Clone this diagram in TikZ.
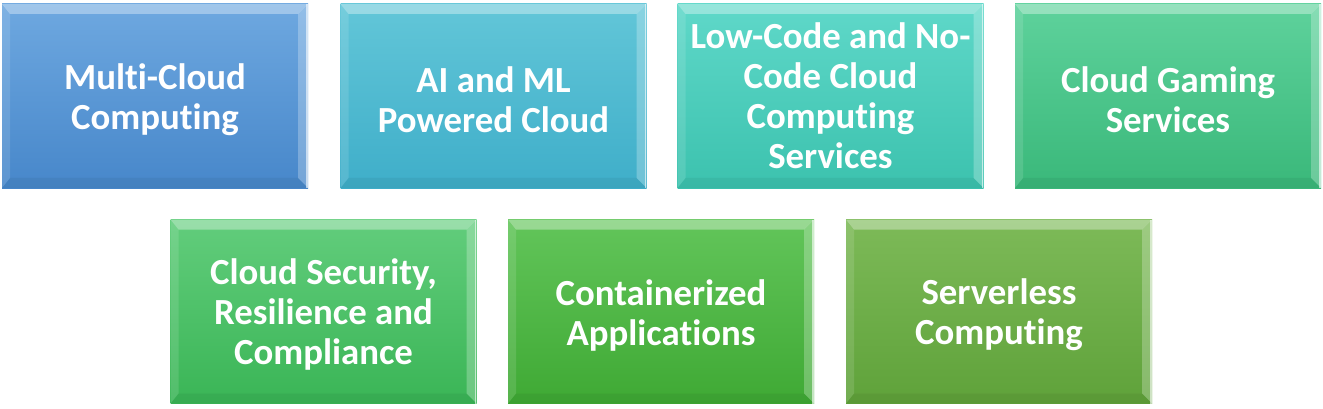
\documentclass[tikz,border=0pt]{standalone}
\usepackage{fontspec}
\setmainfont{Carlito}[RawFeature={-liga;-clig;-dlig;-calt}]
\usetikzlibrary{calc}
\definecolor{cA1}{HTML}{6EA8E0}\definecolor{cA2}{HTML}{4787CA}
\definecolor{cB1}{HTML}{62C6D8}\definecolor{cB2}{HTML}{3FAEC9}
\definecolor{cC1}{HTML}{5FD8C9}\definecolor{cC2}{HTML}{3CC2AE}
\definecolor{cD1}{HTML}{5ED29C}\definecolor{cD2}{HTML}{3AB87A}
\definecolor{cE1}{HTML}{62CD7C}\definecolor{cE2}{HTML}{3AB556}
\definecolor{cF1}{HTML}{62C55A}\definecolor{cF2}{HTML}{3FA934}
\definecolor{cG1}{HTML}{7DBA58}\definecolor{cG2}{HTML}{5FA23A}
\newcommand{\topstrut}[1]{\rule{0pt}{#1}}
\tikzset{
  bevelbox/.style n args={2}{
    rectangle, minimum width=306pt, minimum height=184pt, inner sep=0pt,
    top color=#1, bottom color=#2,
    text=white, align=center,
    font=\fontsize{36.8}{40}\selectfont\bfseries,
    path picture={
      \def\pb{path picture bounding box}
      \fill[white,opacity=.35] (\pb.north west) -- (\pb.north east)
        -- ([shift={(-10pt,-10pt)}]\pb.north east) -- ([shift={(8pt,-10pt)}]\pb.north west) -- cycle;
      \fill[white,opacity=.12] (\pb.north west) -- ([shift={(8pt,-10pt)}]\pb.north west)
        -- ([shift={(8pt,10pt)}]\pb.south west) -- (\pb.south west) -- cycle;
      \fill[white,opacity=.25] (\pb.north east) -- ([shift={(-10pt,-10pt)}]\pb.north east)
        -- ([shift={(-10pt,10pt)}]\pb.south east) -- (\pb.south east) -- cycle;
      \fill[black,opacity=.05] (\pb.south west) -- ([shift={(8pt,10pt)}]\pb.south west)
        -- ([shift={(-10pt,10pt)}]\pb.south east) -- (\pb.south east) -- cycle;
      \draw[white,opacity=.6,line width=1.2pt] ([xshift=-1pt]\pb.north east) -- ([xshift=-1pt]\pb.south east);
    }
  }
}
\begin{document}
\begin{tikzpicture}[x=1pt,y=-1pt]
\useasboundingbox (0,0) rectangle (1323,409);
\node[bevelbox={cA1}{cA2}] (b1) at (155,96) {\topstrut{33pt}Multi-Cloud\\Computing};
\node[bevelbox={cB1}{cB2}] (b2) at (493.5,96) {\topstrut{33pt}AI and ML\\Powered Cloud};
\node[bevelbox={cC1}{cC2}] (b3) at (830.5,96) {Low-Code and No-\\Code Cloud\\Computing\\Services};
\node[bevelbox={cD1}{cD2}] (b4) at (1168,96) {\topstrut{33pt}Cloud Gaming\\Services};
\node[bevelbox={cE1}{cE2}] (b5) at (323.5,311.5) {\topstrut{31pt}Cloud Security,\\Resilience and\\Compliance};
\node[bevelbox={cF1}{cF2}] (b6) at (661,311.5) {\topstrut{33pt}Containerized\\Applications};
\node[bevelbox={cG1}{cG2}] (b7) at (999,311.5) {\topstrut{33pt}Serverless\\Computing};
\end{tikzpicture}
\end{document}
